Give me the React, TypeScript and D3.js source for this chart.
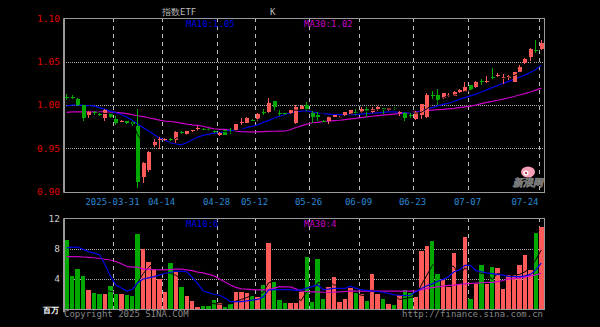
import React from "react";
import * as d3 from "d3";

const dates = [
  "2025-03-18","2025-03-19","2025-03-20","2025-03-21","2025-03-24","2025-03-25","2025-03-26","2025-03-27","2025-03-28","2025-03-31",
  "2025-04-01","2025-04-02","2025-04-03","2025-04-07","2025-04-08","2025-04-09","2025-04-10","2025-04-11","2025-04-14","2025-04-15",
  "2025-04-16","2025-04-17","2025-04-18","2025-04-21","2025-04-22","2025-04-23","2025-04-24","2025-04-25","2025-04-28","2025-04-29",
  "2025-04-30","2025-05-06","2025-05-07","2025-05-08","2025-05-09","2025-05-12","2025-05-13","2025-05-14","2025-05-15","2025-05-16",
  "2025-05-19","2025-05-20","2025-05-21","2025-05-22","2025-05-23","2025-05-26","2025-05-27","2025-05-28","2025-05-29","2025-05-30",
  "2025-06-03","2025-06-04","2025-06-05","2025-06-06","2025-06-09","2025-06-10","2025-06-11","2025-06-12","2025-06-13","2025-06-16",
  "2025-06-17","2025-06-18","2025-06-19","2025-06-20","2025-06-23","2025-06-24","2025-06-25","2025-06-26","2025-06-27","2025-06-30",
  "2025-07-01","2025-07-02","2025-07-03","2025-07-04","2025-07-07","2025-07-08","2025-07-09","2025-07-10","2025-07-11","2025-07-14",
  "2025-07-15","2025-07-16","2025-07-17","2025-07-18","2025-07-21","2025-07-22","2025-07-23","2025-07-24"
];

const open = [
  1.0095,1.0095,1.0066,0.9995,0.9885,0.9925,0.9900,0.9847,0.9904,0.9835,
  0.9812,0.9815,0.9800,0.9758,0.9166,0.9250,0.9539,0.9600,0.9600,0.9608,
  0.9596,0.9692,0.9668,0.9700,0.9723,0.9720,0.9718,0.9702,0.9650,0.9708,
  0.9703,0.9708,0.9800,0.9796,0.9825,0.9835,0.9923,0.9920,1.0046,0.9912,
  0.9903,0.9910,0.9796,0.9958,1.0005,0.9910,0.9888,0.9818,0.9812,0.9862,
  0.9858,0.9881,0.9900,0.9925,0.9920,0.9957,0.9920,0.9938,0.9965,0.9940,
  0.9960,0.9920,0.9910,0.9882,0.9835,0.9885,0.9865,1.0110,1.0115,1.0077,
  1.0113,1.0107,1.0146,1.0146,1.0230,1.0210,1.0280,1.0275,1.0318,1.0330,
  1.0313,1.0315,1.0270,1.0385,1.0480,1.0556,1.0640,1.0646
];
const close = [
  1.0089,1.0089,0.9995,0.9847,0.9923,0.9905,0.9893,0.9942,0.9865,0.9790,
  0.9818,0.9790,0.9780,0.9115,0.9335,0.9460,0.9577,0.9608,0.9606,0.9600,
  0.9690,0.9685,0.9696,0.9707,0.9730,0.9713,0.9712,0.9695,0.9680,0.9657,
  0.9698,0.9777,0.9806,0.9854,0.9820,0.9900,0.9918,1.0027,0.9977,0.9908,
  0.9898,0.9938,0.9977,0.9990,0.9939,0.9860,0.9862,0.9812,0.9862,0.9881,
  0.9864,0.9920,0.9938,0.9918,0.9950,0.9927,0.9957,0.9977,0.9940,0.9965,
  0.9955,0.9925,0.9850,0.9878,0.9920,1.0008,1.0115,1.0105,1.0058,1.0135,
  1.0118,1.0153,1.0173,1.0210,1.0173,1.0260,1.0275,1.0280,1.0313,1.0350,
  1.0318,1.0340,1.0380,1.0444,1.0530,1.0646,1.0636,1.0712
];
const high = [
  1.0124,1.0110,1.0075,1.0000,0.9935,0.9935,0.9920,0.9954,0.9910,0.9880,
  0.9830,0.9820,0.9810,0.9954,0.9345,0.9470,0.9604,0.9635,0.9620,0.9620,
  0.9704,0.9705,0.9700,0.9715,0.9760,0.9730,0.9730,0.9710,0.9690,0.9710,
  0.9740,0.9780,0.9849,0.9860,0.9840,0.9912,0.9950,1.0078,1.0050,0.9940,
  0.9910,0.9945,0.9996,1.0000,1.0035,0.9930,0.9915,0.9830,0.9875,0.9890,
  0.9870,0.9925,0.9945,0.9950,0.9975,0.9980,0.9980,0.9985,0.9968,0.9970,
  0.9975,0.9930,0.9924,0.9910,0.9935,1.0015,1.0134,1.0158,1.0180,1.0140,
  1.0135,1.0158,1.0185,1.0260,1.0235,1.0275,1.0300,1.0330,1.0430,1.0365,
  1.0360,1.0345,1.0385,1.0460,1.0540,1.0655,1.0745,1.0745
];
const low = [
  1.0058,1.0065,0.9992,0.9820,0.9847,0.9890,0.9870,0.9810,0.9850,0.9770,
  0.9800,0.9780,0.9755,0.9040,0.9104,0.9230,0.9512,0.9489,0.9580,0.9590,
  0.9558,0.9670,0.9655,0.9690,0.9695,0.9700,0.9700,0.9680,0.9640,0.9650,
  0.9660,0.9700,0.9770,0.9790,0.9810,0.9815,0.9890,0.9905,0.9930,0.9870,
  0.9880,0.9900,0.9785,0.9950,0.9930,0.9798,0.9810,0.9800,0.9780,0.9860,
  0.9850,0.9875,0.9895,0.9890,0.9910,0.9860,0.9903,0.9935,0.9900,0.9935,
  0.9945,0.9870,0.9812,0.9850,0.9825,0.9842,0.9855,1.0070,1.0000,1.0065,
  1.0095,1.0100,1.0140,1.0145,1.0170,1.0200,1.0230,1.0255,1.0300,1.0325,
  1.0240,1.0290,1.0265,1.0380,1.0470,1.0510,1.0605,1.0635
];
const volume = [
  9.14,4.4,5.3,4.4,2.55,2.1,2.0,2.0,3.1,2.0,
  2.0,1.9,1.75,9.9,7.9,6.2,5.2,4.0,2.25,6.07,
  4.9,3.0,1.8,1.15,0.35,0.5,0.5,1.2,0.8,0.35,
  0.75,2.25,2.3,2.1,1.75,1.65,3.2,8.7,3.65,1.23,
  0.8,0.8,0.8,2.25,6.9,0.9,6.6,1.35,2.9,4.2,
  1.0,1.35,2.75,2.1,2.0,1.15,4.65,2.0,1.35,0.7,
  0.57,1.9,2.55,2.1,1.65,7.7,8.35,9.0,4.65,4.05,
  3.0,7.4,3.3,9.6,1.36,3.4,5.85,3.4,5.6,5.4,
  2.7,4.5,4.5,5.85,7.15,5.2,10.0,10.9
];
const ma10 = [
  0.999,1.000,1.000,0.9995,0.999,0.999,0.997,0.995,0.993,0.991,
  0.989,0.986,0.9825,0.978,0.974,0.970,0.966,0.962,0.9595,0.9565,
  0.955,0.954,0.9565,0.960,0.963,0.965,0.9665,0.9675,0.968,0.9695,
  0.9705,0.971,0.972,0.974,0.9755,0.977,0.980,0.982,0.985,0.987,
  0.989,0.991,0.992,0.993,0.9935,0.992,0.991,0.990,0.9895,0.989,
  0.9888,0.9888,0.9888,0.989,0.9895,0.990,0.9905,0.991,0.9915,0.992,
  0.992,0.9915,0.991,0.991,0.9915,0.9926,0.9955,0.997,0.999,1.0008,
  1.002,1.004,1.0065,1.0085,1.0105,1.0125,1.015,1.0175,1.020,1.0225,
  1.025,1.0272,1.0295,1.032,1.0345,1.0375,1.041,1.046
];
const ma30 = [
  0.9915,0.992,0.992,0.992,0.992,0.992,0.992,0.992,0.9918,0.9915,
  0.991,0.990,0.9888,0.9876,0.9866,0.9853,0.984,0.9825,0.9815,0.981,
  0.9803,0.9792,0.978,0.977,0.9765,0.9755,0.974,0.9725,0.972,0.9718,
  0.9708,0.9698,0.9693,0.969,0.9689,0.969,0.9693,0.9695,0.9697,0.9698,
  0.970,0.9715,0.974,0.976,0.978,0.9795,0.980,0.9808,0.9815,0.982,
  0.9824,0.9832,0.9839,0.9846,0.9854,0.9862,0.987,0.9877,0.9884,0.9889,
  0.9894,0.990,0.9906,0.9913,0.992,0.9927,0.9934,0.994,0.9946,0.995,
  0.9956,0.9962,0.997,0.9978,0.9988,0.9998,1.0015,1.003,1.0042,1.0055,
  1.0068,1.0084,1.0098,1.0115,1.0132,1.015,1.0172,1.0195
];
const volMa10 = [
  8.1,8.2,8.2,7.9,7.6,7.4,7.2,5.9,4.4,3.2,
  2.8,2.4,2.6,3.5,4.0,4.15,4.3,4.5,4.75,4.85,
  5.05,5.0,4.95,4.2,3.4,2.45,2.2,1.95,1.85,1.5,
  1.0,1.0,1.0,1.1,1.2,1.3,1.6,2.55,2.6,2.6,
  2.6,2.6,2.5,2.55,2.8,3.0,3.2,2.6,2.65,2.75,
  2.75,2.75,3.05,2.8,2.55,2.5,2.4,2.35,2.25,2.1,
  1.9,1.85,1.8,1.85,2.3,2.75,3.1,3.35,3.7,3.95,
  4.3,4.95,5.2,5.8,5.8,5.1,4.95,4.8,4.7,4.6,
  4.5,4.35,4.3,4.3,4.4,4.6,5.2,6.1
];
const volMa30 = [
  6.95,6.95,6.95,6.9,6.85,6.8,6.7,6.6,6.5,6.3,
  6.0,5.65,5.55,5.55,5.3,5.3,5.25,5.2,5.2,5.25,
  5.3,5.3,5.2,5.1,4.9,4.8,4.6,4.4,4.0,3.6,
  3.2,2.9,2.7,2.65,2.6,2.55,2.55,2.6,2.8,3.0,
  2.95,2.95,2.7,2.4,2.35,2.3,2.3,2.25,2.25,2.25,
  2.3,2.35,2.4,2.4,2.4,2.4,2.4,2.4,2.4,2.4,
  2.4,2.4,2.4,2.4,2.4,2.55,2.75,2.85,2.95,3.05,
  3.15,3.2,3.3,3.35,3.4,3.45,3.5,3.55,3.55,3.65,
  3.8,4.0,4.05,4.15,4.25,4.4,4.55,4.75
];

const priceTicks = [1.10, 1.05, 1.00, 0.95, 0.90];
const volTicks = [12, 8, 4];
const tickDates = ["2025-03-31","2025-04-14","2025-04-28","2025-05-12","2025-05-26","2025-06-09","2025-06-23","2025-07-07","2025-07-24"];
const titleText = "指数ETF";
const titleText2 = "K";
const priceLegend = ["MA10:1.05", "MA30:1.02"];
const volLegend = ["MA10:6", "MA30:4"];
const volUnit = "百万";
const copyright = "Copyright 2025 SINA.COM";
const url = "http://finance.sina.com.cn";

const L = 64, R = 544;
const PT = 18.3, PB = 191.7, VT = 218.3, VB = 309.3;
const RED = "#ff5a5a", GREEN = "#00a800", BLUE = "#0000e8", MAG = "#c800c8";
const MONO = "'DejaVu Sans Mono', monospace";

function movingAvg(arr: number[], n: number): (number | null)[] {
  return arr.map((_, i) => (i < n - 1 ? null : d3.mean(arr.slice(i - n + 1, i + 1)) as number));
}

export default function App() {
  const x = d3.scaleBand<string>().domain(dates).range([L, R]).padding(0);
  const bw = x.bandwidth();
  const cx = (i: number) => (x(dates[i]) as number) + bw / 2;
  const y = d3.scaleLinear().domain([0.9, 1.1]).range([PB, PT]);
  const yv = d3.scaleLinear().domain([0, 12]).range([VB, VT]);

  const ma5 = movingAvg(close, 5);
  const vma5 = movingAvg(volume, 5);

  const linePrice = d3.line<number | null>().defined((d) => d != null).x((_, i) => cx(i)).y((d) => y(d as number));
  const lineVol = d3.line<number | null>().defined((d) => d != null).x((_, i) => cx(i)).y((d) => yv(d as number));

  const vLines = tickDates.map((d) => Math.round(x(d) as number) + 0.5);

  return (
    <div style={{ position: "fixed", left: 0, top: 0, width: 600, height: 327, background: "#000" }}>
      <svg width={600} height={327} style={{ display: "block", background: "#000" }}>
        {/* title */}
        <text x={162} y={15} fill="#bbb" fontSize={9} fontFamily={MONO}>{titleText}</text>
        <text x={270} y={15} fill="#bbb" fontSize={9} fontFamily={MONO}>{titleText2}</text>

        {/* horizontal grid price */}
        {priceTicks.slice(1, 4).map((t) => (
          <line key={"hp" + t} x1={L} x2={R} y1={Math.round(y(t)) + 0.5} y2={Math.round(y(t)) + 0.5}
            stroke="#aaa" strokeDasharray="1,1" shapeRendering="crispEdges" />
        ))}
        {volTicks.slice(1).map((t) => (
          <line key={"hv" + t} x1={L} x2={R} y1={Math.round(yv(t)) + 0.5} y2={Math.round(yv(t)) + 0.5}
            stroke="#aaa" strokeDasharray="1,1" shapeRendering="crispEdges" />
        ))}
        {/* vertical dashed lines */}
        {vLines.map((vx, k) => (
          <g key={"vl" + k}>
            <line x1={vx} x2={vx} y1={PT} y2={PB} stroke="#bbb" strokeDasharray="4,4" shapeRendering="crispEdges" />
            <line x1={vx} x2={vx} y1={VT} y2={VB} stroke="#bbb" strokeDasharray="4,4" shapeRendering="crispEdges" />
          </g>
        ))}

        {/* MA lines price */}
        <path d={linePrice(ma30) || ""} fill="none" stroke={MAG} strokeWidth={1.2} />
        <path d={linePrice(ma10) || ""} fill="none" stroke={BLUE} strokeWidth={1.2} />

        {/* candles */}
        {dates.map((d, i) => {
          const up = close[i] >= open[i];
          const col = up ? RED : GREEN;
          const px = Math.floor(cx(i));
          const top = y(Math.max(open[i], close[i]));
          const bot = y(Math.min(open[i], close[i]));
          return (
            <g key={d} shapeRendering="crispEdges">
              <line x1={px + 0.5} x2={px + 0.5} y1={y(high[i])} y2={y(low[i])} stroke={col} strokeWidth={1} />
              <rect x={px - 1.5} y={top} width={4} height={Math.max(1, bot - top)} fill={col} />
            </g>
          );
        })}
        <path d={linePrice(ma5) || ""} fill="none" stroke="#000" strokeWidth={1} />

        {/* volume bars */}
        {dates.map((d, i) => {
          const up = close[i] >= open[i];
          const col = up ? RED : GREEN;
          const bx = (x(d) as number) + 0.5;
          return (
            <rect key={"v" + d} x={bx} y={yv(volume[i])} width={bw - 1} height={VB - yv(volume[i])} fill={col}
              shapeRendering="crispEdges" />
          );
        })}
        <path d={lineVol(vma5) || ""} fill="none" stroke="#000" strokeWidth={1} />
        <path d={lineVol(volMa30) || ""} fill="none" stroke={MAG} strokeWidth={1.2} />
        <path d={lineVol(volMa10) || ""} fill="none" stroke={BLUE} strokeWidth={1.2} />

        {/* frames */}
        <rect x={L + 0.5} y={Math.round(PT) + 0.5} width={R - L} height={Math.round(PB) - Math.round(PT)} fill="none"
          stroke="#999" shapeRendering="crispEdges" />
        <rect x={L + 0.5} y={Math.round(VT) + 0.5} width={R - L} height={Math.round(VB) - Math.round(VT)} fill="none"
          stroke="#999" shapeRendering="crispEdges" />
        <line x1={L} x2={L} y1={PT} y2={PB + 1} stroke="#999" strokeWidth={2} />
        <line x1={L} x2={L} y1={VT} y2={VB + 3} stroke="#999" strokeWidth={2} />

        {/* price labels */}
        {priceTicks.map((t) => (
          <text key={"pl" + t} x={60} y={y(t)} dy="0.35em" textAnchor="end" fill="#e00000" fontSize={9.5} fontFamily={MONO}>
            {t.toFixed(2)}
          </text>
        ))}
        {volTicks.map((t) => (
          <text key={"vlab" + t} x={60} y={yv(t)} dy="0.35em" textAnchor="end" fill="#ccc" fontSize={9.5} fontFamily={MONO}>
            {t}
          </text>
        ))}
        <text x={59} y={313} textAnchor="end" fill="#fff" fontSize={8} fontWeight="bold">{volUnit}</text>

        {/* date labels */}
        {tickDates.map((d, k) => {
          const vx = vLines[k];
          const label = k === 0 ? d : d.slice(5);
          const w = label.length * 5.42;
          const atEnd = vx + w / 2 > R;
          return (
            <text key={"dl" + d} x={atEnd ? vx - 1 : vx - 1} y={204.5} textAnchor={atEnd ? "end" : "middle"}
              fill="#2a8ad4" fontSize={9} fontFamily={MONO}>
              {label}
            </text>
          );
        })}

        {/* legends */}
        <text x={186} y={27} fill={BLUE} fontSize={9} fontFamily={MONO}>{priceLegend[0]}</text>
        <text x={304} y={27} fill={MAG} fontSize={9} fontFamily={MONO}>{priceLegend[1]}</text>
        <text x={186} y={227} fill={BLUE} fontSize={9} fontFamily={MONO}>{volLegend[0]}</text>
        <text x={304} y={227} fill={MAG} fontSize={9} fontFamily={MONO}>{volLegend[1]}</text>

        {/* footer */}
        <text x={64} y={317} fill="#888" fontSize={9} fontFamily={MONO}>{copyright}</text>
        <text x={543} y={317} textAnchor="end" fill="#888" fontSize={9} fontFamily={MONO}>{url}</text>

        {/* sina logo */}
        <g>
          <ellipse cx={528} cy={172} rx={7} ry={5.5} fill="#f5a0b4" />
          <circle cx={526} cy={173} r={2.6} fill="#fff" />
          <circle cx={526} cy={173} r={1.2} fill="#c04060" />
          <text x={513} y={186} fill="#ddd" stroke="#777" strokeWidth={0.4} fontSize={10} fontWeight="bold" fontStyle="italic">新浪网</text>
        </g>
      </svg>
    </div>
  );
}
